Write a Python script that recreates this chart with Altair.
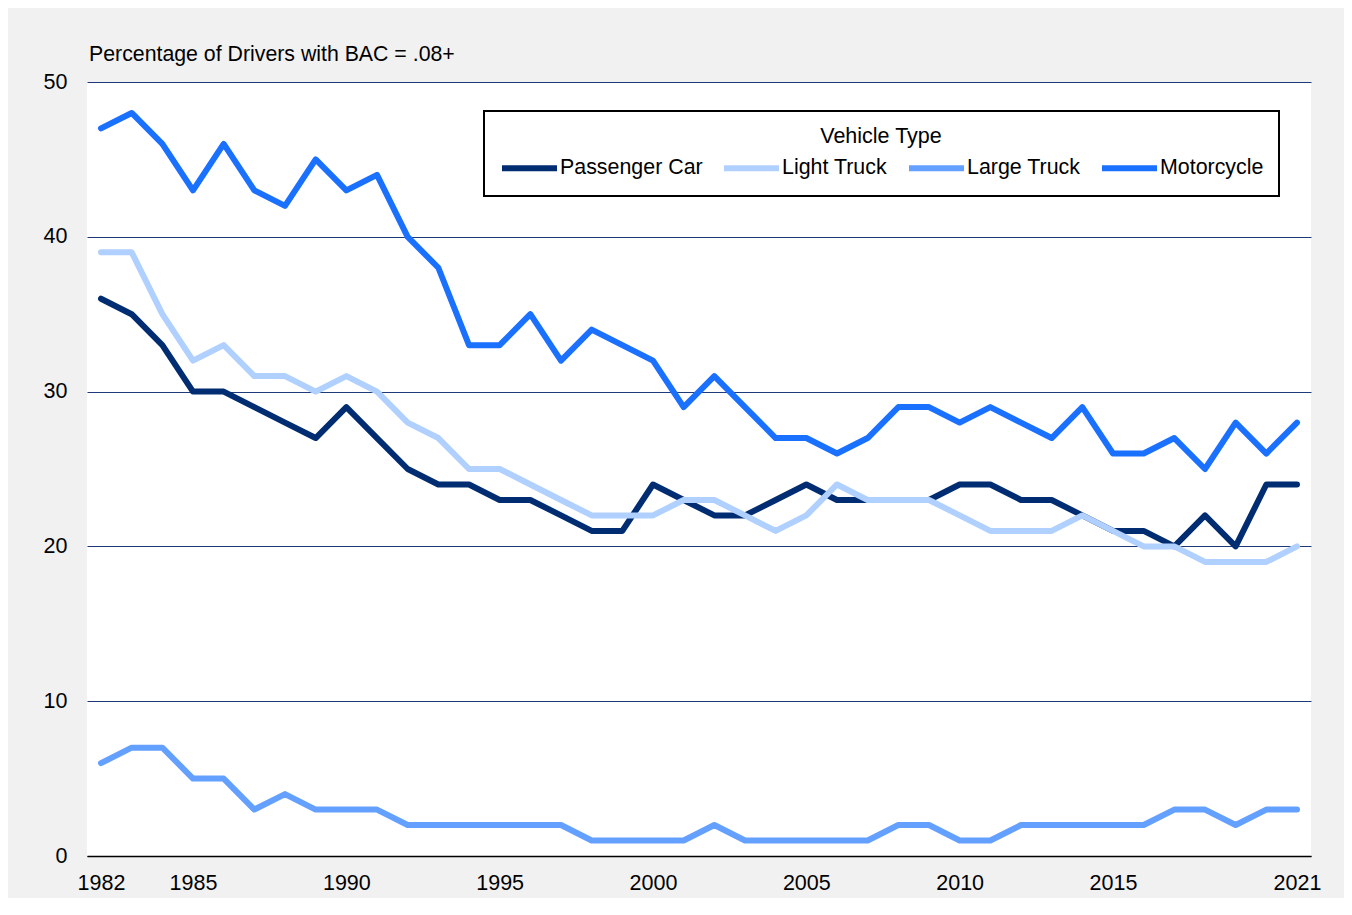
import altair as alt
import pandas as pd

years = list(range(1982, 2022))
series_names = ["Passenger Car", "Light Truck", "Large Truck", "Motorcycle"]
series_colors = ["#002d72", "#b0d0ff", "#64a0ff", "#1a70ff"]

passenger_car = [36, 35, 33, 30, 30, 29, 28, 27, 29, 27,
                 25, 24, 24, 23, 23, 22, 21, 21, 24, 23,
                 22, 22, 23, 24, 23, 23, 23, 23, 24, 24,
                 23, 23, 22, 21, 21, 20, 22, 20, 24, 24]
light_truck = [39, 39, 35, 32, 33, 31, 31, 30, 31, 30,
               28, 27, 25, 25, 24, 23, 22, 22, 22, 23,
               23, 22, 21, 22, 24, 23, 23, 23, 22, 21,
               21, 21, 22, 21, 20, 20, 19, 19, 19, 20]
large_truck = [6, 7, 7, 5, 5, 3, 4, 3, 3, 3,
               2, 2, 2, 2, 2, 2, 1, 1, 1, 1,
               2, 1, 1, 1, 1, 1, 2, 2, 1, 1,
               2, 2, 2, 2, 2, 3, 3, 2, 3, 3]
motorcycle = [47, 48, 46, 43, 46, 43, 42, 45, 43, 44,
              40, 38, 33, 33, 35, 32, 34, 33, 32, 29,
              31, 29, 27, 27, 26, 27, 29, 29, 28, 29,
              28, 27, 29, 26, 26, 27, 25, 28, 26, 28]

x_tick_values = [1982, 1985, 1990, 1995, 2000, 2005, 2010, 2015, 2021]
y_tick_values = [0, 10, 20, 30, 40, 50]

rows = []
for name, vals in zip(series_names, [passenger_car, light_truck, large_truck, motorcycle]):
    for yr, v in zip(years, vals):
        rows.append({"Year": yr, "Value": v, "Vehicle Type": name})
df = pd.DataFrame(rows)

FONT = "Liberation Sans"

chart = alt.Chart(df).mark_line(
    strokeWidth=6, strokeCap="round", strokeJoin="round"
).encode(
    x=alt.X("Year:Q",
            scale=alt.Scale(domain=[1981.543, 2021.457], nice=False, zero=False),
            axis=alt.Axis(values=x_tick_values, format="d", title=None, grid=False,
                          ticks=False, domain=True, domainColor="#000000", domainWidth=1.5,
                          labelFontSize=21.5, labelFont=FONT, labelColor="#000000",
                          labelPadding=16, labelFlush=False)),
    y=alt.Y("Value:Q",
            scale=alt.Scale(domain=[0, 50], nice=False),
            axis=alt.Axis(values=y_tick_values, title=None, grid=True,
                          gridColor="#1f3a78", gridWidth=1.2, domain=False, ticks=False,
                          labelFontSize=21.5, labelFont=FONT, labelColor="#000000",
                          labelPadding=20)),
    color=alt.Color("Vehicle Type:N",
                    scale=alt.Scale(domain=series_names, range=series_colors),
                    sort=series_names,
                    legend=alt.Legend(
                        orient="none", legendX=397, legendY=29,
                        direction="horizontal", columns=4, columnPadding=9,
                        symbolType="M-1,0L4.24,0", symbolSize=441, symbolStrokeWidth=6,
                        labelFontSize=21.4, labelFont=FONT, labelColor="#000000",
                        labelOffset=34, labelLimit=300,
                        title="Vehicle Type", titleFontSize=21.5, titleFont=FONT,
                        titleFontWeight="normal", titleColor="#000000",
                        titleAnchor="middle", titlePadding=7,
                        padding=15, strokeColor="#000000", fillColor="#ffffff",
                        cornerRadius=0)),
    order=alt.Order("Year:Q"),
).properties(
    width=1224, height=774,
    title=alt.TitleParams("Percentage of Drivers with BAC = .08+", anchor="start",
                          frame="group", fontSize=21.3, font=FONT, fontWeight="normal",
                          color="#000000", baseline="alphabetic", offset=21, dx=2, dy=32),
    autosize=alt.AutoSizeParams(type="none"),
    padding={"left": 79, "top": 74, "right": 33, "bottom": 42},
    background="#f1f1f1",
).configure_view(
    fill="#ffffff", stroke=None
).configure_legend(
    strokeWidth=2
)

chart.save("out.html", embed_options={"renderer": "svg", "actions": False})
